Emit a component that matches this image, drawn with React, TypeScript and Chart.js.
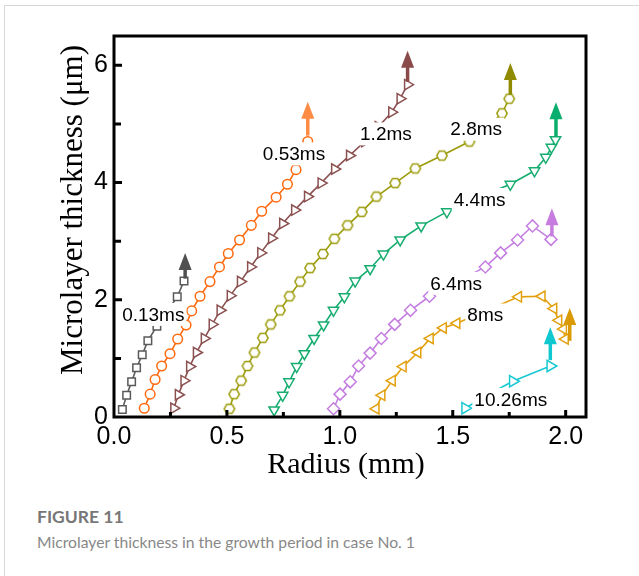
import React, { useEffect, useRef } from "react";
import { Chart, registerables } from "chart.js";

Chart.register(...registerables);

// ---- data (radius in mm, thickness in µm) ----
const seriesNames = ["0.13ms", "0.53ms", "1.2ms", "2.8ms", "4.4ms", "6.4ms", "8ms", "10.26ms"];

const radius013 = [0.037, 0.056, 0.078, 0.1, 0.125, 0.15, 0.19, 0.235, 0.28, 0.31];
const thick013 = [0.13, 0.37, 0.6, 0.84, 1.06, 1.3, 1.55, 1.8, 2.05, 2.32];

const radius053 = [0.134, 0.16, 0.182, 0.211, 0.248, 0.282, 0.319, 0.344, 0.381, 0.425, 0.467, 0.506, 0.556, 0.608, 0.654, 0.718, 0.768, 0.806, 0.835, 0.858];
const thick053 = [0.15, 0.39, 0.64, 0.87, 1.08, 1.33, 1.57, 1.81, 2.06, 2.31, 2.56, 2.79, 3.02, 3.27, 3.51, 3.75, 3.97, 4.22, 4.46, 4.7];

const radius12 = [0.265, 0.285, 0.31, 0.335, 0.365, 0.4, 0.435, 0.47, 0.515, 0.56, 0.605, 0.65, 0.698, 0.747, 0.8, 0.857, 0.917, 0.977, 1.043, 1.11, 1.17, 1.23, 1.267, 1.3];
const thick12 = [0.15, 0.38, 0.62, 0.86, 1.1, 1.34, 1.58, 1.82, 2.07, 2.31, 2.56, 2.8, 3.05, 3.3, 3.53, 3.76, 3.99, 4.23, 4.46, 4.7, 4.95, 5.2, 5.43, 5.67];

const radius28 = [0.511, 0.532, 0.563, 0.591, 0.622, 0.659, 0.694, 0.735, 0.777, 0.824, 0.868, 0.925, 0.976, 1.034, 1.097, 1.162, 1.245, 1.334, 1.452, 1.574, 1.65, 1.718, 1.75];
const thick28 = [0.14, 0.39, 0.62, 0.87, 1.1, 1.35, 1.58, 1.82, 2.06, 2.31, 2.54, 2.78, 3.04, 3.27, 3.5, 3.76, 3.99, 4.24, 4.46, 4.7, 4.94, 5.18, 5.43];

const radius44 = [0.709, 0.747, 0.775, 0.809, 0.843, 0.886, 0.928, 0.972, 1.02, 1.068, 1.134, 1.193, 1.267, 1.36, 1.474, 1.57, 1.66, 1.755, 1.862, 1.912, 1.937, 1.955];
const thick44 = [0.12, 0.37, 0.6, 0.86, 1.08, 1.34, 1.57, 1.82, 2.05, 2.32, 2.53, 2.78, 3.02, 3.26, 3.5, 3.68, 3.82, 3.97, 4.2, 4.43, 4.6, 4.73];

const radius64 = [0.972, 1.001, 1.046, 1.083, 1.134, 1.184, 1.243, 1.313, 1.397, 1.52, 1.644, 1.712, 1.787, 1.853, 1.935];
const thick64 = [0.14, 0.39, 0.6, 0.87, 1.09, 1.34, 1.58, 1.82, 2.06, 2.31, 2.56, 2.8, 3.02, 3.26, 3.03];

const radius8 = [1.16, 1.186, 1.232, 1.28, 1.345, 1.4, 1.458, 1.518, 1.64, 1.791, 1.895, 1.947, 1.969, 1.99, 1.998];
const thick8 = [0.14, 0.37, 0.62, 0.86, 1.1, 1.34, 1.52, 1.6, 1.8, 2.05, 2.06, 1.85, 1.65, 1.5, 1.33];

const radius1026 = [1.555, 1.655, 1.766, 1.932];
const thick1026 = [0.15, 0.38, 0.61, 0.87];

// growth arrows: x position, start and tip thickness
const arrowX = [0.315, 0.858, 1.3, 1.755, 1.957, 1.939, 2.018, 1.932];
const arrowFrom = [2.36, 4.8, 5.72, 5.5, 4.78, 3.08, 1.3, 0.97];
const arrowTo = [2.8, 5.38, 6.25, 6.04, 5.37, 3.56, 1.86, 1.53];

// time labels (centre, data units)
const labelX = [0.174, 0.797, 1.204, 1.604, 1.619, 1.515, 1.644, 1.757];
const labelY = [1.75, 4.49, 4.83, 4.91, 3.71, 2.28, 1.74, 0.3];

// axes
const xTitle = "Radius (mm)";
const yTitle = "Microlayer thickness (μm)";
const xTicks = [0, 0.5, 1, 1.5, 2];
const xMinorTicks = [0.25, 0.75, 1.25, 1.75];
const yTicks = [0, 2, 4, 6];
const yMinorTicks = [1, 3, 5];

const radiusSeries = [radius013, radius053, radius12, radius28, radius44, radius64, radius8, radius1026];
const thickSeries = [thick013, thick053, thick12, thick28, thick44, thick64, thick8, thick1026];

// ---- styles ----
const lineColors = ["#5a5a5a", "#ff6a10", "#8b5050", "#9b9b0a", "#18ad70", "#c47ee0", "#e3a00e", "#18c9d2"];
const arrowColors = ["#505050", "#ff8c45", "#8b4a4a", "#8f8a00", "#0aae6c", "#c77de0", "#d99a05", "#10c8d0"];
const pointStyles = ["rect", "circle", "triangle", "hex", "triangle", "rectRot", "triangle", "triangle"];
const rotations = [0, 0, 90, 0, 180, 0, 270, 90];
const radii = [5.3, 4.8, 6, 5, 6, 6, 6, 6.5];

function makeHexagon(color: string) {
  const c = document.createElement("canvas");
  c.width = 14;
  c.height = 14;
  const g = c.getContext("2d")!;
  g.beginPath();
  for (let k = 0; k < 6; k++) {
    const a = (Math.PI / 3) * k;
    const px = 7 + 5.2 * Math.cos(a);
    const py = 7 + 5.2 * Math.sin(a);
    if (k === 0) g.moveTo(px, py);
    else g.lineTo(px, py);
  }
  g.closePath();
  g.fillStyle = "#fff";
  g.fill();
  g.lineWidth = 1.5;
  g.strokeStyle = color;
  g.stroke();
  return c;
}

function drawArrow(ctx: CanvasRenderingContext2D, x: number, y0: number, y1: number, color: string) {
  const headLen = 17;
  const headHalf = 6.5;
  ctx.strokeStyle = color;
  ctx.lineWidth = 3.5;
  ctx.beginPath();
  ctx.moveTo(x, y0);
  ctx.lineTo(x, y1 + headLen - 1);
  ctx.stroke();
  ctx.fillStyle = color;
  ctx.beginPath();
  ctx.moveTo(x, y1);
  ctx.lineTo(x - headHalf, y1 + headLen);
  ctx.lineTo(x + headHalf, y1 + headLen);
  ctx.closePath();
  ctx.fill();
}

const decorPlugin = {
  id: "decor",
  afterDatasetsDraw(chart: any) {
    const { ctx, scales } = chart;
    const x = scales.x;
    const y = scales.y;
    ctx.save();
    ctx.font = '19px "Liberation Sans", Arial, sans-serif';
    ctx.textAlign = "center";
    ctx.textBaseline = "middle";
    seriesNames.forEach((t, i) => {
      const px = x.getPixelForValue(labelX[i]);
      const py = y.getPixelForValue(labelY[i]);
      const w = ctx.measureText(t).width;
      ctx.fillStyle = "#fff";
      ctx.fillRect(px - w / 2 - 2, py - 11.5, w + 4, 23);
      ctx.fillStyle = "#000";
      ctx.fillText(t, px, py + 1);
    });
    arrowX.forEach((ax, i) => {
      drawArrow(
        ctx,
        x.getPixelForValue(ax),
        y.getPixelForValue(arrowFrom[i]),
        y.getPixelForValue(arrowTo[i]),
        arrowColors[i]
      );
    });
    ctx.restore();
  },
  afterDraw(chart: any) {
    const { ctx, chartArea, scales } = chart;
    const { left, top, right, bottom } = chartArea;
    ctx.save();
    ctx.strokeStyle = "#000";
    ctx.lineWidth = 3;
    ctx.lineCap = "butt";
    ctx.beginPath();
    xTicks.forEach((v) => {
      if (v === 0) return;
      const p = scales.x.getPixelForValue(v);
      ctx.moveTo(p, bottom);
      ctx.lineTo(p, bottom - 7);
    });
    xMinorTicks.forEach((v) => {
      const p = scales.x.getPixelForValue(v);
      ctx.moveTo(p, bottom);
      ctx.lineTo(p, bottom - 5);
    });
    yTicks.forEach((v) => {
      if (v === 0) return;
      const p = scales.y.getPixelForValue(v);
      ctx.moveTo(left, p);
      ctx.lineTo(left + 8, p);
    });
    yMinorTicks.forEach((v) => {
      const p = scales.y.getPixelForValue(v);
      ctx.moveTo(left, p);
      ctx.lineTo(left + 7, p);
    });
    ctx.stroke();
    ctx.strokeRect(left, top, right - left, bottom - top);

    // axis titles
    ctx.fillStyle = "#000";
    ctx.textAlign = "center";
    ctx.textBaseline = "middle";
    ctx.font = '30px "Liberation Serif", "Times New Roman", serif';
    ctx.fillText(xTitle, 346, 465);
    ctx.translate(82, 210);
    ctx.rotate(-Math.PI / 2);
    ctx.textBaseline = "alphabetic";
    ctx.font = '31px "Liberation Serif", "Times New Roman", serif';
    ctx.fillText(yTitle, 0, 0);
    ctx.restore();
  },
};

const CANVAS_W = 639;
const CANVAS_H = 500;

export default function App() {
  const ref = useRef<HTMLCanvasElement | null>(null);

  useEffect(() => {
    if (!ref.current) return;
    const hex = makeHexagon(lineColors[3]);
    const datasets = seriesNames.map((name, i) => ({
      label: name,
      data: radiusSeries[i].map((r, k) => ({ x: r, y: thickSeries[i][k] })),
      borderColor: lineColors[i],
      backgroundColor: "#fff",
      borderWidth: 1.6,
      pointStyle: pointStyles[i] === "hex" ? hex : pointStyles[i],
      pointRotation: rotations[i],
      pointRadius: radii[i],
      pointBorderWidth: 1.5,
      pointBorderColor: lineColors[i],
      pointBackgroundColor: "#fff",
      showLine: true,
      tension: 0,
      fill: false,
    }));

    const tickFont = { family: '"Liberation Sans", Arial, sans-serif', size: 25 };

    const chart = new Chart(ref.current, {
      type: "scatter",
      data: { datasets: datasets as any },
      options: {
        animation: false,
        responsive: false,
        devicePixelRatio: 1,
        layout: { padding: { left: 0, top: 36, right: 53, bottom: 0 } },
        plugins: { legend: { display: false }, tooltip: { enabled: false } },
        scales: {
          x: {
            type: "linear",
            min: 0,
            max: 2.09,
            afterBuildTicks: (s: any) => {
              s.ticks = xTicks.map((v) => ({ value: v }));
            },
            afterFit: (s: any) => {
              s.height = CANVAS_H - 417;
            },
            grid: { display: false, drawTicks: false },
            border: { display: false },
            ticks: {
              font: tickFont,
              color: "#000",
              padding: 5,
              maxRotation: 0,
              autoSkip: false,
              callback: (v: any) => Number(v).toFixed(1),
            },
          },
          y: {
            type: "linear",
            min: 0,
            max: 6.5,
            afterBuildTicks: (s: any) => {
              s.ticks = yTicks.map((v) => ({ value: v }));
            },
            afterFit: (s: any) => {
              s.width = 114;
            },
            grid: { display: false, drawTicks: false },
            border: { display: false },
            ticks: {
              font: tickFont,
              color: "#000",
              padding: 6,
              autoSkip: false,
              callback: (v: any) => String(v),
            },
          },
        },
      },
      plugins: [decorPlugin],
    });
    return () => chart.destroy();
  }, []);

  return (
    <div style={{ position: "fixed", left: 0, top: 0, width: 639, height: 576, background: "#fff", overflow: "hidden" }}>
      <div
        style={{
          position: "absolute",
          left: 4,
          top: 5,
          width: 700,
          height: 700,
          borderTop: "1px solid #d8d8d8",
          borderLeft: "1px solid #d8d8d8",
        }}
      />
      <div style={{ position: "absolute", left: 0, top: 0, width: CANVAS_W, height: CANVAS_H }}>
        <canvas ref={ref} width={CANVAS_W} height={CANVAS_H} style={{ width: CANVAS_W, height: CANVAS_H, display: "block" }} />
      </div>
      <div
        style={{
          position: "absolute",
          left: 37,
          top: 509,
          fontFamily: "Lato, sans-serif",
          fontWeight: 700,
          fontSize: 17.5,
          lineHeight: "16px",
          color: "#777",
          whiteSpace: "nowrap",
        }}
      >
        FIGURE 11
      </div>
      <div
        style={{
          position: "absolute",
          left: 37,
          top: 534,
          fontFamily: "Lato, sans-serif",
          fontSize: 15.7,
          lineHeight: "16px",
          color: "#888",
          whiteSpace: "nowrap",
        }}
      >
        Microlayer thickness in the growth period in case No. 1
      </div>
    </div>
  );
}
